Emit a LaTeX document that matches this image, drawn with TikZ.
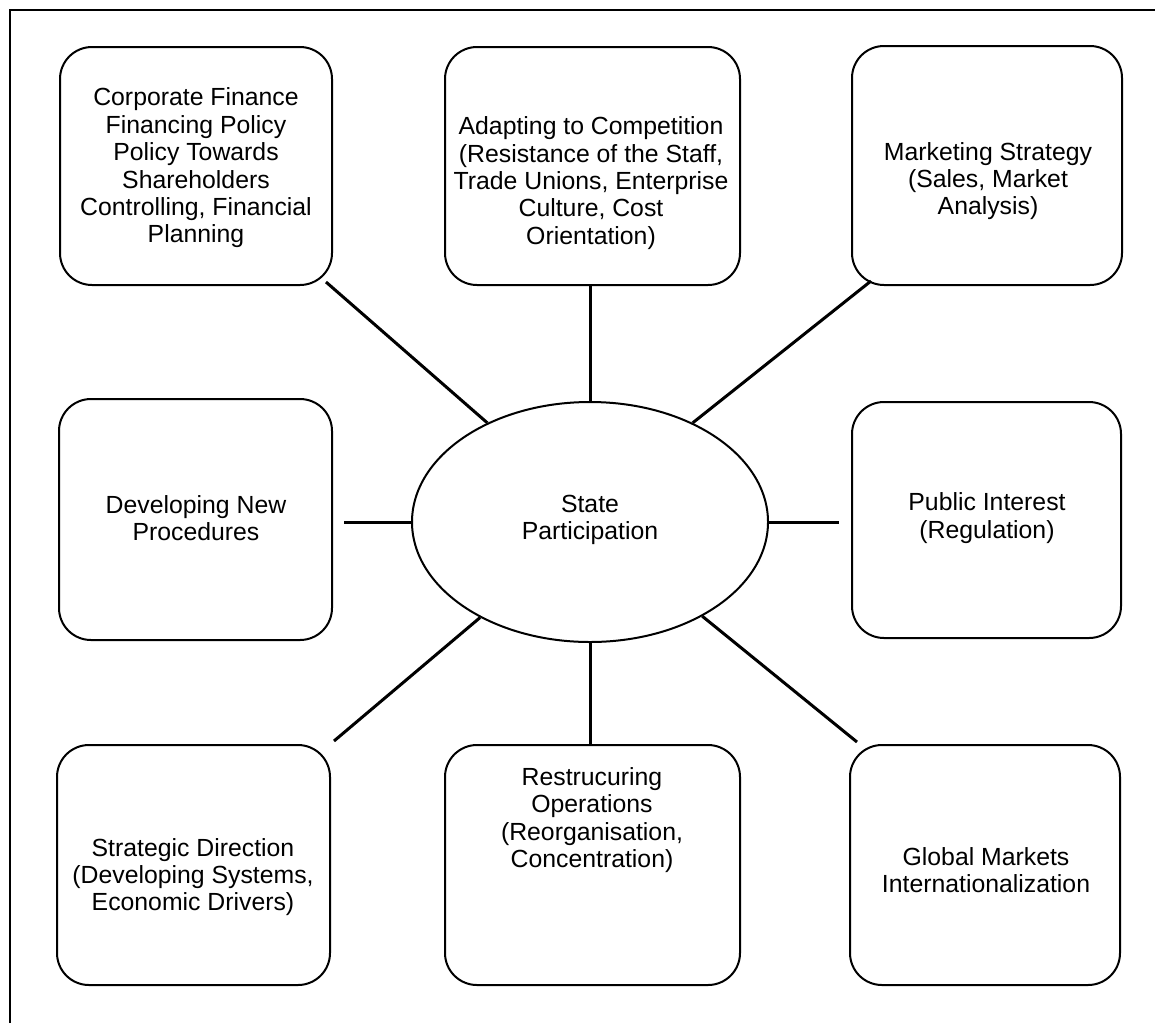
\documentclass[tikz,border=0pt]{standalone}
\usepackage{fontspec}
\setmainfont{Liberation Sans}
\usetikzlibrary{shapes.geometric,calc}
\begin{document}
\begin{tikzpicture}[x=0.5pt,y=-0.5pt,
  box/.style={draw,line width=1pt,rounded corners=16pt,inner sep=0pt},
  lbl/.style={align=center,font=\fontsize{12.4}{13.7}\selectfont,inner sep=0pt},
  conn/.style={line width=1.5pt},
  frame/.style={line width=1pt}]
\useasboundingbox (0,0) rectangle (1155,1023);
\draw[frame] (10,1023) -- (10,10) -- (1155,10);
% boxes
\node[box,minimum width=136pt,minimum height=119pt] (b1) at (196,166) {};
\node[box,minimum width=147.5pt,minimum height=119pt] (b2) at (592.5,166) {};
\node[box,minimum width=135pt,minimum height=119.5pt] (b3) at (987,165.5) {};
\node[box,minimum width=136.5pt,minimum height=120.5pt] (b4) at (195.5,519.5) {};
\node[box,minimum width=134.5pt,minimum height=118pt] (b5) at (986.5,520) {};
\node[box,minimum width=136.5pt,minimum height=120pt] (b6) at (193.5,865) {};
\node[box,minimum width=147.5pt,minimum height=120pt] (b7) at (592.5,865) {};
\node[box,minimum width=135pt,minimum height=120pt] (b8) at (985,865) {};
\node[draw,ellipse,line width=1pt,minimum width=178pt,minimum height=120pt,inner sep=0pt] (ell) at (590,522) {};
% labels
\node[lbl] (t0) at (590,520) {State\\Participation};
\node[lbl] (t1) at (196,168) {Corporate Finance\\Financing Policy\\Policy Towards\\Shareholders\\Controlling, Financial\\Planning};
\node[lbl] (t2) at (591,183) {Adapting to Competition\\(Resistance of the Staff,\\Trade Unions, Enterprise\\Culture, Cost\\Orientation)};
\node[lbl] (t3) at (988,181) {Marketing Strategy\\(Sales, Market\\Analysis)};
\node[lbl] (t4) at (196,518) {Developing New\\Procedures};
\node[lbl] (t5) at (987,518) {Public Interest\\(Regulation)};
\node[lbl] (t6) at (193,877) {Strategic Direction\\(Developing Systems,\\Economic Drivers)};
\node[lbl] (t7) at (592,820) {Restrucuring\\Operations\\(Reorganisation,\\Concentration)};
\node[lbl] (t8) at (986,870) {Global Markets\\Internationalization};
% connectors
\draw[conn] ($(b1.south east)+(-7,-4)$) -- (ell.136);
\draw[conn] (ell.north) -- (ell.north |- b2.south);
\draw[conn] ($(b3.south west)+(20,-5)$) -- (ell.44);
\draw[conn,shorten >=5.5pt] (ell.west) -- (ell.west -| b4.east);
\draw[conn,shorten >=6pt] (ell.east) -- (ell.east -| b5.west);
\draw[conn] (ell.221) -- ($(b6.north east)+(3,-3)$);
\draw[conn] (ell.south) -- (ell.south |- b7.north);
\draw[conn] (ell.320) -- ($(b8.north west)+(8,-2)$);
\end{tikzpicture}
\end{document}
